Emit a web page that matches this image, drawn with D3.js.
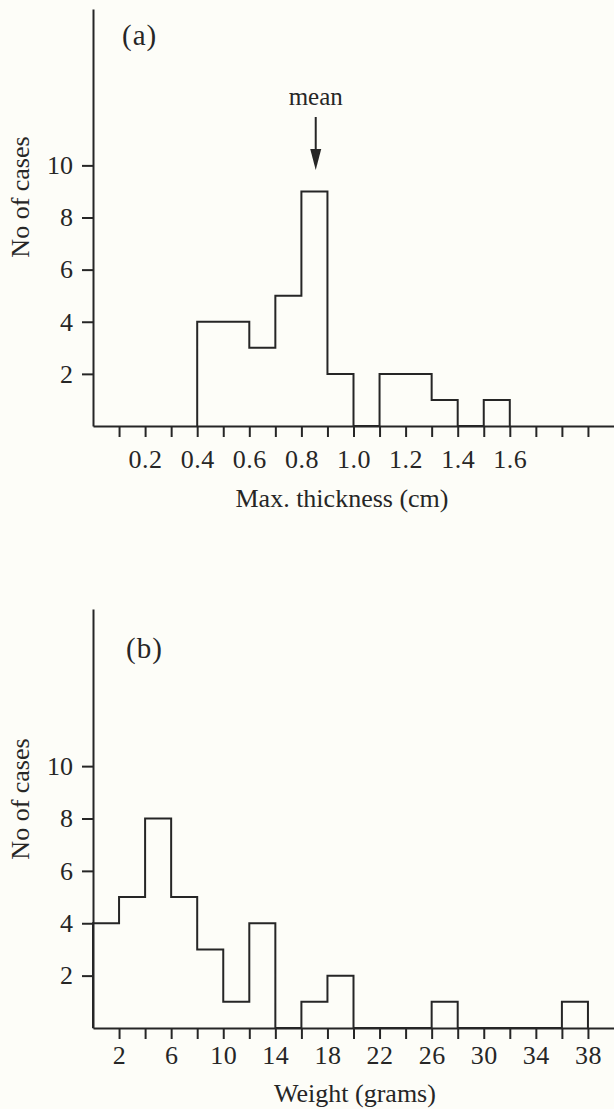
<!DOCTYPE html>
<html>
<head>
<meta charset="utf-8">
<script src="https://cdn.jsdelivr.net/npm/d3@7"></script>
<style>
  body { margin: 0; background: #fdfdf8; }
  text { font-family: "Liberation Serif", "DejaVu Serif", serif; fill: #262626; }
  .axis path, .axis line { stroke: #262626; stroke-width: 2; }
</style>
</head>
<body>
<div id="chart"></div>
<script>
// panel (a): max. thickness, bins of 0.1 cm (edges has one more entry than counts)
var thicknessEdges = [0.4, 0.5, 0.6, 0.7, 0.8, 0.9, 1.0, 1.1, 1.2, 1.3, 1.4, 1.5, 1.6];
var thicknessCounts = [4, 4, 3, 5, 9, 2, 0, 2, 2, 1, 0, 1];
var thicknessTicks = [0.1, 0.2, 0.3, 0.4, 0.5, 0.6, 0.7, 0.8, 0.9, 1.0, 1.1, 1.2, 1.3, 1.4, 1.5, 1.6, 1.7, 1.8, 1.9];
var thicknessLabels = [0.2, 0.4, 0.6, 0.8, 1.0, 1.2, 1.4, 1.6];
var thicknessMean = 0.855;

// panel (b): weight, bins of 2 grams
var weightEdges = [0, 2, 4, 6, 8, 10, 12, 14, 16, 18, 20, 22, 24, 26, 28, 30, 32, 34, 36, 38];
var weightCounts = [4, 5, 8, 5, 3, 1, 4, 0, 1, 2, 0, 0, 0, 1, 0, 0, 0, 0, 1];
var weightTicks = [2, 4, 6, 8, 10, 12, 14, 16, 18, 20, 22, 24, 26, 28, 30, 32, 34, 36, 38];
var weightLabels = [2, 6, 10, 14, 18, 22, 26, 30, 34, 38];

var countTicks = [2, 4, 6, 8, 10];

// set the dimensions of the page
var svgWidth = 614;
var svgHeight = 1109;

var svg = d3.select("#chart")
    .append("svg")
    .attr("width", svgWidth)
    .attr("height", svgHeight);

function drawPanel(p) {
    var g = svg.append("g");

    var xScale = d3.scaleLinear()
        .domain(p.xDomain)
        .range([93, 614]);

    var yScale = d3.scaleLinear()
        .domain([0, p.yMax])
        .range([p.baseY, p.topY]);

    // x axis, ticks pointing down
    var bottomAxis = d3.axisBottom(xScale)
        .tickValues(p.ticks)
        .tickSize(11)
        .tickSizeOuter(0)
        .tickPadding(p.labelPad)
        .tickFormat(d => p.labels.some(v => Math.abs(v - d) < 1e-9) ? p.fmt(d) : "");

    g.append("g")
      .attr("class", "axis")
      .attr("transform", `translate(0, ${p.baseY})`)
      .call(bottomAxis)
      .selectAll("text")
      .style("font-size", "26px")
      .style("letter-spacing", "0.5px");

    // y axis, ticks pointing left
    var leftAxis = d3.axisLeft(yScale)
        .tickValues(countTicks)
        .tickSize(11)
        .tickSizeOuter(0)
        .tickPadding(9);

    g.append("g")
      .attr("class", "axis")
      .attr("transform", "translate(93, 0)")
      .call(leftAxis)
      .selectAll("text")
      .style("font-size", "26px");

    // histogram outline as a step line
    var pts = [[p.edges[0], 0]];
    p.counts.forEach((c, i) => pts.push([p.edges[i], c]));
    pts.push([p.edges[p.counts.length], 0]);

    var stepLine = d3.line()
        .x(d => xScale(d[0]))
        .y(d => yScale(d[1]))
        .curve(d3.curveStepAfter);

    g.append("path")
      .datum(pts)
      .attr("d", stepLine)
      .attr("fill", "none")
      .attr("stroke", "#262626")
      .attr("stroke-width", 2);

    // panel letter
    g.append("text")
      .attr("x", p.tagX)
      .attr("y", p.tagY)
      .style("font-size", "29px")
      .style("letter-spacing", "1px")
      .text(p.tag);

    // axis titles
    g.append("text")
      .attr("transform", `translate(29, ${p.baseY - 229}) rotate(-90)`)
      .attr("text-anchor", "middle")
      .style("font-size", "26px")
      .text("No of cases");

    g.append("text")
      .attr("x", p.titleX)
      .attr("y", p.baseY + p.titleDy)
      .attr("text-anchor", "middle")
      .style("font-size", "26px")
      .text(p.title);

    return {x: xScale, y: yScale, g: g};
}

var panelA = drawPanel({
    xDomain: [0, 2.0], yMax: 16, baseY: 426, topY: 9,
    edges: thicknessEdges, counts: thicknessCounts,
    ticks: thicknessTicks, labels: thicknessLabels, fmt: d3.format(".1f"),
    labelPad: 13, tag: "(a)", tagX: 122, tagY: 45,
    title: "Max. thickness (cm)", titleX: 342, titleDy: 81
});

var panelB = drawPanel({
    xDomain: [0, 40], yMax: 16, baseY: 1028, topY: 609,
    edges: weightEdges, counts: weightCounts,
    ticks: weightTicks, labels: weightLabels, fmt: d3.format("d"),
    labelPad: 7, tag: "(b)", tagX: 126, tagY: 658,
    title: "Weight (grams)", titleX: 355, titleDy: 74
});

// mean arrow in panel (a)
var meanX = panelA.x(thicknessMean);
panelA.g.append("line")
    .attr("x1", meanX)
    .attr("x2", meanX)
    .attr("y1", 117)
    .attr("y2", 150)
    .attr("stroke", "#262626")
    .attr("stroke-width", 2);

panelA.g.append("path")
    .attr("d", `M${meanX - 5.5},149 L${meanX + 5.5},149 L${meanX},170 Z`)
    .attr("fill", "#262626");

panelA.g.append("text")
    .attr("x", meanX)
    .attr("y", 105)
    .attr("text-anchor", "middle")
    .style("font-size", "25px")
    .text("mean");
</script>
</body>
</html>
